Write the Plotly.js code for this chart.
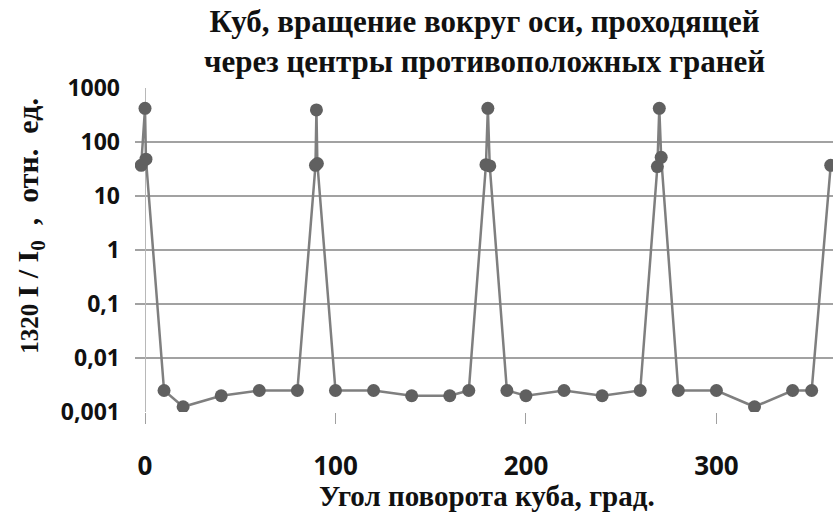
<!DOCTYPE html>
<html>
<head>
<meta charset="utf-8">
<script src="https://cdn.plot.ly/plotly-3.0.1.min.js"></script>
<style>
  html, body { margin: 0; padding: 0; background: #fff; }
  #chart { width: 834px; height: 512px; }
</style>
</head>
<body>
<div id="chart"></div>
<script>
// Rotation angle of the cube, degrees
const angles = [-2, 0, 0.5, 10, 20, 40, 60, 80, 89.5, 90, 90.5, 100, 120, 140, 160, 170,
                179, 180, 181, 190, 200, 220, 240, 260, 269, 270, 271, 280, 300, 320, 340, 350, 360];
// Scattered intensity 1320 I/I0, relative units
const intensity = [37, 421, 48, 0.0025, 0.00125, 0.002, 0.0025, 0.0025, 37, 392, 40, 0.0025,
                   0.0025, 0.002, 0.002, 0.0025, 38, 421, 36, 0.0025, 0.002, 0.0025, 0.002, 0.0025,
                   35, 421, 52, 0.0025, 0.0025, 0.00125, 0.0025, 0.0025, 37];

const xTickVals = [0, 100, 200, 300];
const xTickText = ['0', '100', '200', '300'];
const yTickVals = [0.001, 0.01, 0.1, 1, 10, 100, 1000];
const yTickText = ['0,001', '0,01', '0,1', '1', '10', '100', '1000'];

const titleText = 'Куб, вращение вокруг оси, проходящей<br>через центры противоположных граней';
const xTitleText = 'Угол поворота куба, град.';
const yTitleText = '<span style="font-size:25px">1320 </span>I / I<sub>0</sub>  ,  отн.  ед.';

const serif = '"Liberation Serif", "Times New Roman", serif';
const sans = '"Open Sans", "DejaVu Sans", sans-serif';

const trace = {
  x: angles,
  y: intensity,
  type: 'scatter',
  mode: 'lines+markers',
  line: { color: '#7f7f7f', width: 2.5 },
  marker: { color: '#606060', size: 13 },
  hoverinfo: 'x+y'
};

const layout = {
  width: 834,
  height: 512,
  margin: { l: 135, r: 1, t: 88, b: 100 },
  paper_bgcolor: '#ffffff',
  plot_bgcolor: '#ffffff',
  showlegend: false,
  xaxis: {
    type: 'linear',
    range: [-5.25, 361.2],
    tickvals: xTickVals,
    ticktext: xTickText,
    ticks: 'outside',
    ticklen: 11,
    tickwidth: 1,
    tickcolor: '#a0a0a0',
    ticklabelstandoff: 20,
    tickfont: { family: sans, size: 26, color: '#111', weight: 'bold' },
    showgrid: false,
    zeroline: true,
    zerolinecolor: '#b8b8b8',
    zerolinewidth: 1,
    showline: false
  },
  yaxis: {
    type: 'log',
    range: [-3, 3],
    tickvals: yTickVals,
    ticktext: yTickText,
    ticks: '',
    ticklabelstandoff: 14,
    tickfont: { family: sans, size: 23, color: '#111', weight: 'bold' },
    showgrid: true,
    gridcolor: '#a2a2a2',
    gridwidth: 2,
    zeroline: false,
    showline: false
  },
  annotations: [
    {
      // chart title, two lines above the plot
      text: titleText,
      xref: 'paper', yref: 'paper',
      x: 0.5, y: 1, yshift: 47,
      xanchor: 'center', yanchor: 'middle',
      showarrow: false,
      font: { family: serif, size: 31, color: '#111', weight: 'bold' }
    },
    {
      text: xTitleText,
      xref: 'paper', yref: 'paper',
      x: 0.505, y: 0, yshift: -84,
      xanchor: 'center', yanchor: 'middle',
      showarrow: false,
      font: { family: serif, size: 29, color: '#111', weight: 'bold' }
    },
    {
      text: yTitleText,
      xref: 'paper', yref: 'paper',
      x: 0, xshift: -105, y: 0.575,
      xanchor: 'center', yanchor: 'middle',
      textangle: -90,
      showarrow: false,
      font: { family: serif, size: 30, color: '#111', weight: 'bold' }
    }
  ]
};

Plotly.newPlot('chart', [trace], layout, { displayModeBar: false, staticPlot: true });
</script>
</body>
</html>
